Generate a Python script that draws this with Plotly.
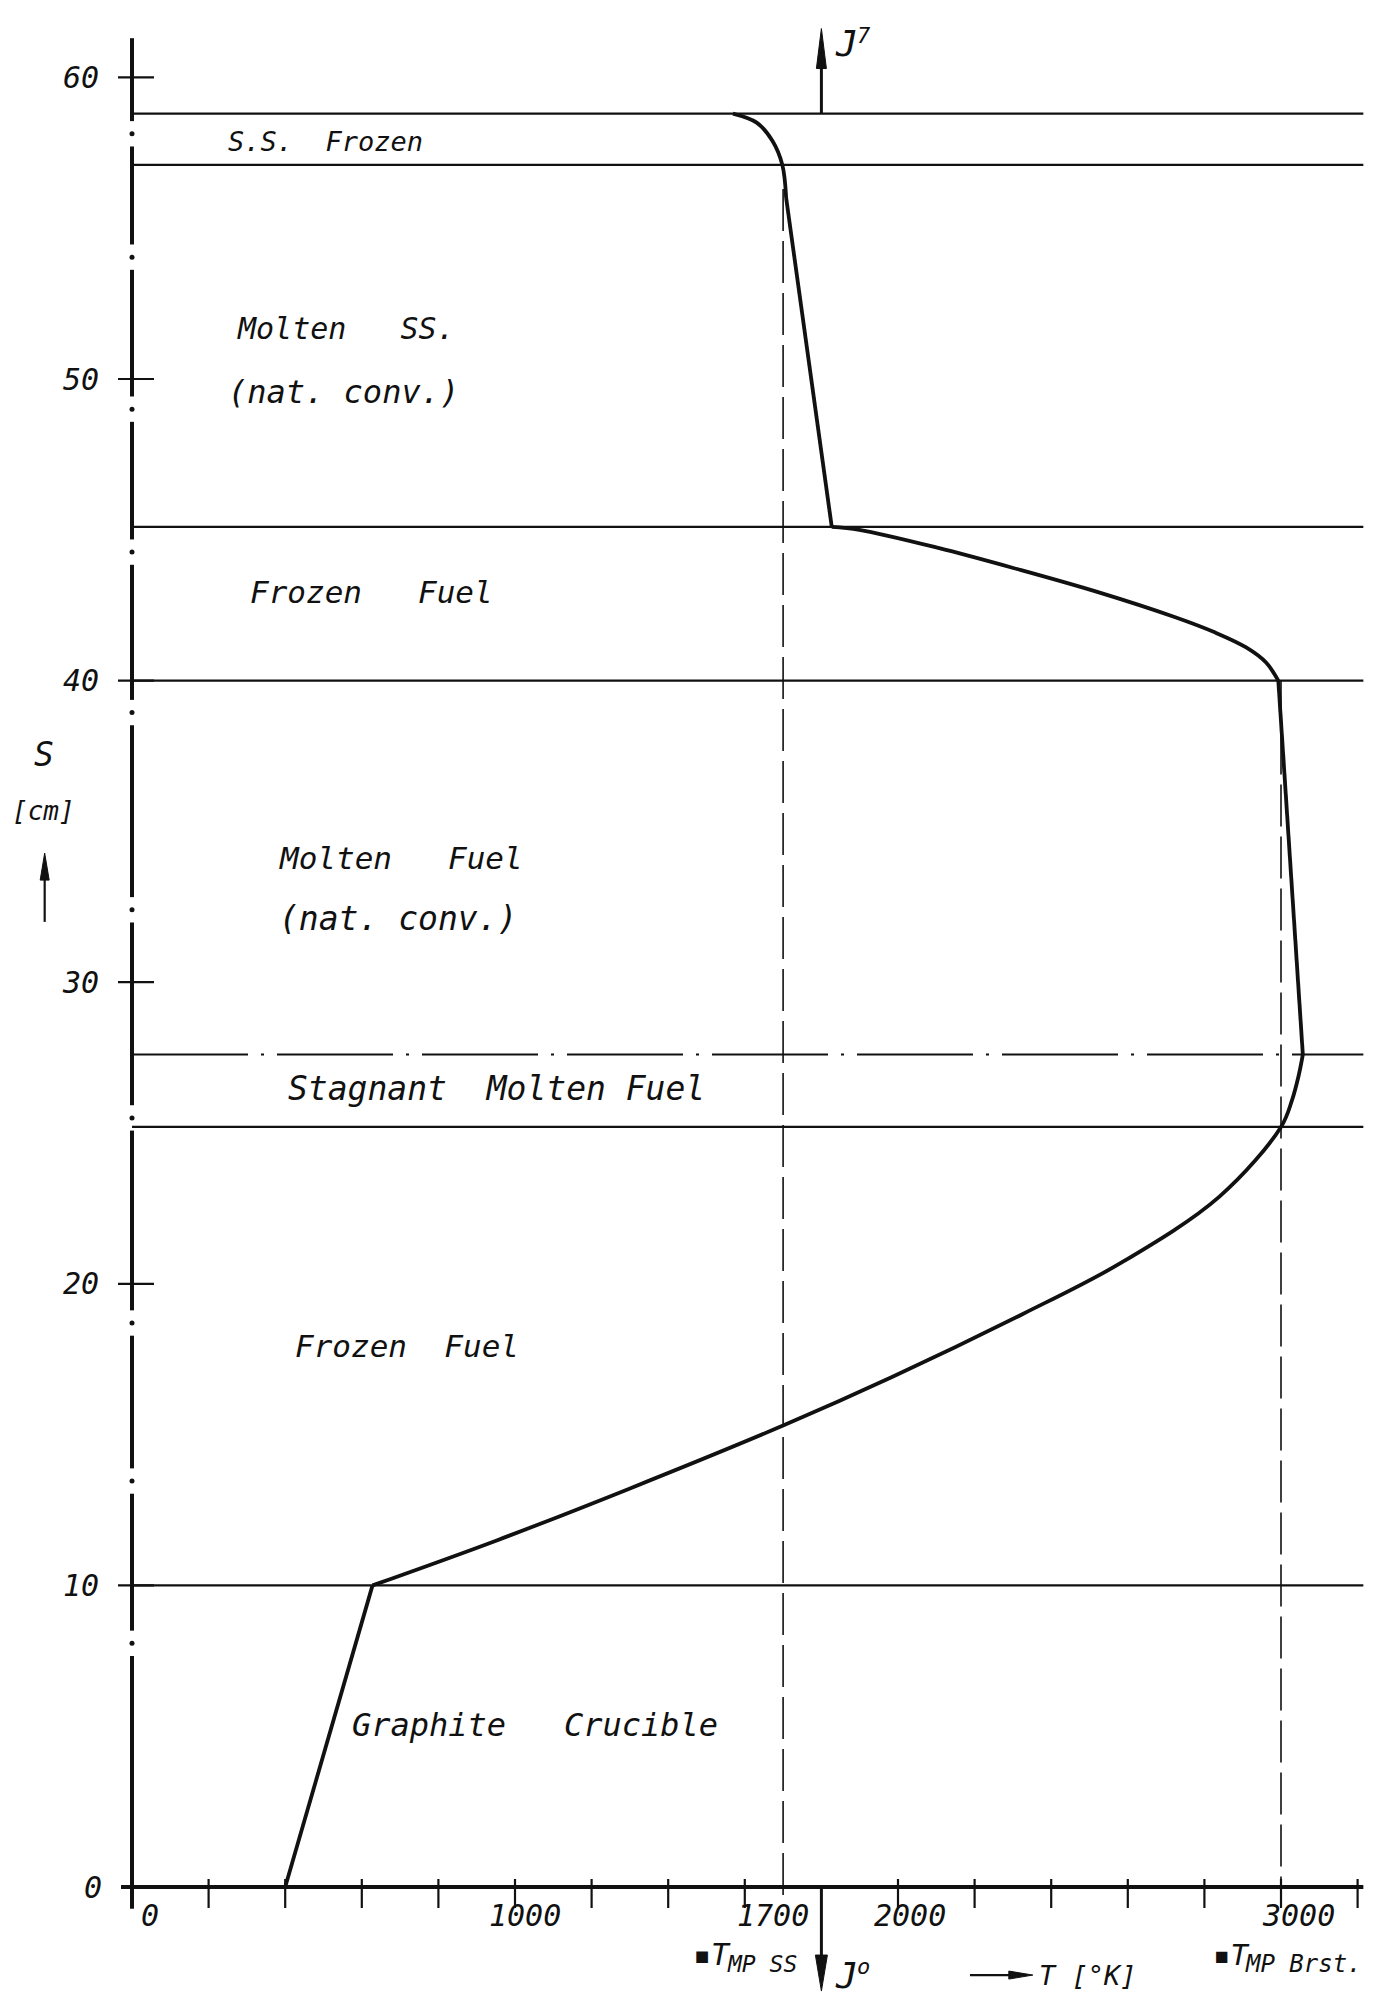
import plotly.graph_objects as go

# ---------------------------------------------------------------- data ----
# Axial temperature profile through the melt column, zone by zone.
# T in K, s (height) in cm.
graphite_T = [400, 628]
graphite_s = [0.0, 10.0]

fuel_lower_T = [628, 954, 1297, 1700, 1983, 2326, 2583, 2840, 3000, 3029, 3046, 3057]
fuel_lower_s = [10.0, 11.5, 13.2, 15.3, 16.9, 19.0, 20.7, 22.9, 25.2, 26.1, 26.9, 27.6]

molten_fuel_T = [3057, 2993]
molten_fuel_s = [27.6, 40.0]

fuel_upper_T = [2993, 2961, 2909, 2827, 2724, 2518, 2311, 2105, 1899, 1827]
fuel_upper_s = [40.0, 40.6, 41.1, 41.6, 42.1, 42.95, 43.7, 44.4, 45.0, 45.1]

molten_ss_T = [1827, 1708]
molten_ss_s = [45.1, 56.0]

ss_frozen_T = [1708, 1698, 1672, 1631, 1569]
ss_frozen_s = [56.0, 57.1, 57.9, 58.5, 58.8]

# zone boundaries (solid) and top of the stagnant layer (dash-dot)
zone_bounds = [10.0, 25.2, 40.0, 45.1, 57.1, 58.8]
stagnant_top = 27.6

# melting points and heat-flux position
T_MP_SS = 1700
T_MP_FUEL = 3000
T_FLUX = 1800

x_ticks = [200, 400, 600, 800, 1000, 1200, 1400, 1600, 1800, 2000,
           2200, 2400, 2600, 2800, 3000, 3200]
x_tick_labels = ["0", "1000", "1700", "2000", "3000"]
x_tick_label_vals = [0, 1000, 1700, 2000, 3000]
y_ticks = [10, 20, 30, 40, 50, 60]
y_tick_labels = ["60", "50", "40", "30", "20", "10", "0"]
y_tick_label_vals = [60, 50, 40, 30, 20, 10, 0]

zone_names = ["S.S.&nbsp;&nbsp;Frozen", "Molten&nbsp;&nbsp;&nbsp;SS.", "(nat.&nbsp;conv.)",
              "Frozen&nbsp;&nbsp;&nbsp;Fuel", "Molten&nbsp;&nbsp;&nbsp;Fuel", "(nat.&nbsp;conv.)",
              "Stagnant&nbsp;&nbsp;Molten&nbsp;Fuel", "Frozen&nbsp;&nbsp;Fuel",
              "Graphite&nbsp;&nbsp;&nbsp;Crucible"]

# ------------------------------------------------------------- layout ----
W, H = 1378, 1996
X0_PX, PX_PER_K = 132.0, 0.383      # T = 0 at x = 132 px
Y0_PX, PX_PER_CM = 1887.0, 30.16    # s = 0 at y = 1887 px
KPX = 1.0 / PX_PER_K                # K per pixel
CPX = 1.0 / PX_PER_CM               # cm per pixel

x_range = [-X0_PX * KPX, (W - X0_PX) * KPX]
y_range = [-(H - Y0_PX) * CPX, Y0_PX * CPX]

INK = "#111111"
FONT = "DejaVu Sans Mono"
T_END = 3215          # right end of the zone lines
S_TOP = 61.3          # top of the s axis
S_BOT = -0.72         # bottom of the s axis

# label placement (T of left edge, s of centre, font size)
zone_label_pos = [(245, 57.86, 27), (269, 51.69, 30), (245, 49.57, 32),
                  (303, 42.94, 31), (379, 34.12, 31), (379, 32.10, 33),
                  (402, 26.46, 33), (420, 17.94, 31), (569, 5.37, 32)]
x_label_shift = [18, 10, -10, 12, 17]     # px offsets of hand-lettered labels

fig = go.Figure()


def line(x0, y0, x1, y1, width, dash="solid"):
    fig.add_shape(type="line", x0=x0, y0=y0, x1=x1, y1=y1, layer="above",
                  line=dict(color=INK, width=width, dash=dash))


def arrow_head(tip_x, tip_y, direction, length_px, half_px):
    if direction in ("up", "down"):
        sgn = 1 if direction == "up" else -1
        by = tip_y - sgn * length_px * CPX
        path = (f"M {tip_x},{tip_y} L {tip_x - half_px * KPX},{by} "
                f"L {tip_x + half_px * KPX},{by} Z")
    else:
        bx = tip_x - length_px * KPX
        path = (f"M {tip_x},{tip_y} L {bx},{tip_y + half_px * CPX} "
                f"L {bx},{tip_y - half_px * CPX} Z")
    fig.add_shape(type="path", path=path, fillcolor=INK, layer="above",
                  line=dict(color=INK, width=1))


def label(x, y, text, size, xanchor="left", yanchor="middle", xshift=0):
    fig.add_annotation(x=x, y=y, xref="x", yref="y", text=f"<i>{text}</i>",
                       showarrow=False, xanchor=xanchor, yanchor=yanchor,
                       xshift=xshift, font=dict(family=FONT, size=size, color=INK))


# temperature profile
for xs, ys, shape in [(graphite_T, graphite_s, "linear"),
                      (fuel_lower_T, fuel_lower_s, "spline"),
                      (molten_fuel_T, molten_fuel_s, "linear"),
                      (fuel_upper_T, fuel_upper_s, "spline"),
                      (molten_ss_T, molten_ss_s, "linear"),
                      (ss_frozen_T, ss_frozen_s, "spline")]:
    fig.add_trace(go.Scatter(x=xs, y=ys, mode="lines", hoverinfo="skip",
                             showlegend=False,
                             line=dict(color=INK, width=3.8, shape=shape)))

# zone boundaries
for s in zone_bounds:
    line(0, s, T_END, s, 2.3)
line(0, stagnant_top, T_END, stagnant_top, 2.0, dash="116px,13px,3px,13px")

# melting-point guides
line(T_MP_SS, 56.3, T_MP_SS, -0.5, 1.6, dash="42px,10px")
line(T_MP_FUEL, 40.0, T_MP_FUEL, -0.4, 1.6, dash="42px,10px")

# T axis with ticks
line(-11 * KPX, 0, T_END, 0, 3.8)
for t in x_ticks:
    if t == T_FLUX:
        continue
    line(t, 8 * CPX, t, -21 * CPX, 2.2)

# s axis, drawn as a long-dash / dot line
breaks = [58.13, 54.04, 49.0, 44.26, 38.94, 32.4, 25.5, 18.7, 13.46, 8.08]
gap = 0.42
top = S_TOP
for b in breaks:
    line(0, top, 0, b + gap, 4.0)
    top = b - gap
line(0, top, 0, S_BOT, 4.0)
fig.add_trace(go.Scatter(x=[0] * len(breaks), y=breaks, mode="markers",
                         hoverinfo="skip", showlegend=False,
                         marker=dict(color=INK, size=5, symbol="circle")))
for v in y_ticks:
    line(-14 * KPX, v, 22 * KPX, v, 2.2)

# heat flux arrows J7 (top) and Jo (bottom)
line(T_FLUX, 58.8, T_FLUX, 60.5, 3.0)
arrow_head(T_FLUX, 61.62, "up", 40, 5)
line(T_FLUX, 0, T_FLUX, -2.3, 3.0)
arrow_head(T_FLUX, -3.45, "down", 36, 6)

# s axis title arrow
line(-228, 32.0, -228, 33.6, 2.2)
arrow_head(-228, 34.28, "up", 27, 4.5)

# T axis title arrow
line(2188, -2.92, 2300, -2.92, 2.2)
arrow_head(2352, -2.92, "right", 24, 4)

# --------------------------------------------------------------- text ----
for name, (tx, sy, size) in zip(zone_names, zone_label_pos):
    label(tx, sy, name, size)

for txt, v in zip(y_tick_labels, y_tick_label_vals):
    label(-80 + (8 if v == 0 else 0), v, txt, 30, xanchor="right")

for txt, v, dx in zip(x_tick_labels, x_tick_label_vals, x_label_shift):
    label(v, -0.95, txt, 30, xanchor="center", xshift=dx)

label(-230, 37.56, "S", 33, xanchor="center")
label(-230, 35.68, "[cm]", 26, xanchor="center")

# flux symbols with their small indices
label(1830, 61.14, "J", 36)
label(1888, 61.40, "7", 22)
label(1830, -2.93, "J", 36)
label(1888, -2.62, "o", 22)

# melting-point markers with lowered indices
label(1460, -2.25, "▪T", 30)
label(1548, -2.55, "MP&nbsp;SS", 23)
label(2363, -2.92, "T&nbsp;[°K]", 27)
label(2818, -2.25, "▪T", 29)
label(2900, -2.55, "MP&nbsp;Brst.", 24)

fig.update_layout(
    width=W, height=H, autosize=False,
    margin=dict(l=0, r=0, t=0, b=0, pad=0),
    paper_bgcolor="white", plot_bgcolor="white",
    xaxis=dict(range=x_range, visible=False, fixedrange=True),
    yaxis=dict(range=y_range, visible=False, fixedrange=True),
    showlegend=False,
)

fig.write_html("out.html", post_script="document.body.style.margin='0';")
